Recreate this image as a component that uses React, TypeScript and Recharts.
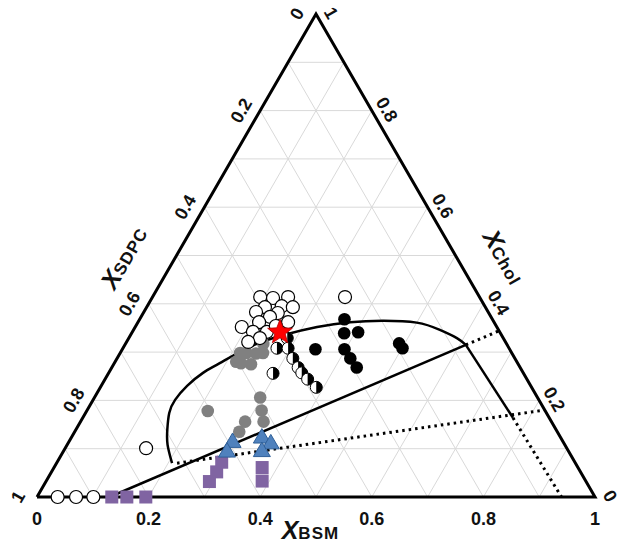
import { ComposedChart, XAxis, YAxis, Line, Scatter } from "recharts";

const H = Math.sqrt(3) / 2;

// points are [x_BSM, x_Chol]; x_SDPC = 1 - both
const openPts = [
  [0.193, 0.414], [0.217, 0.412], [0.243, 0.414], [0.212, 0.393], [0.241, 0.395],
  [0.262, 0.393], [0.201, 0.383], [0.241, 0.381], [0.231, 0.373], [0.217, 0.362],
  [0.269, 0.362], [0.191, 0.352], [0.216, 0.342], [0.241, 0.342], [0.235, 0.329],
  [0.218, 0.321], [0.251, 0.354], [0.345, 0.414], [0.145, 0.101],
  [0.037, 0], [0.07, 0], [0.101, 0],
];
const halfPts = [
  [0.284, 0.329], [0.276, 0.308], [0.296, 0.308], [0.315, 0.287], [0.334, 0.268],
  [0.346, 0.257], [0.363, 0.244], [0.387, 0.227], [0.295, 0.256],
];
const blackPts = [
  [0.346, 0.306], [0.367, 0.368], [0.381, 0.339], [0.405, 0.341], [0.398, 0.306],
  [0.418, 0.287], [0.439, 0.268], [0.49, 0.318], [0.501, 0.308],
];
const greyPts = [
  [0.215, 0.298], [0.226, 0.298], [0.244, 0.297], [0.256, 0.298], [0.247, 0.317],
  [0.217, 0.28], [0.227, 0.277], [0.246, 0.275], [0.297, 0.206], [0.217, 0.178],
  [0.313, 0.179], [0.328, 0.156], [0.295, 0.156], [0.295, 0.135],
];
const trianglePts = [
  [0.293, 0.115], [0.293, 0.095], [0.341, 0.124], [0.363, 0.112], [0.355, 0.096],
];
const squarePts = [
  [0.295, 0.072], [0.296, 0.052], [0.293, 0.032], [0.373, 0.061], [0.387, 0.033],
  [0.134, 0], [0.161, 0], [0.195, 0],
];
const starPts = [[0.265, 0.341]];

const boundary = [
  [0.207, 0.07], [0.18, 0.108], [0.164, 0.139], [0.15, 0.174], [0.147, 0.201],
  [0.154, 0.23], [0.169, 0.257], [0.189, 0.277], [0.226, 0.311], [0.273, 0.335],
  [0.326, 0.352], [0.38, 0.362], [0.437, 0.365], [0.5, 0.361], [0.549, 0.346],
  [0.588, 0.329], [0.611, 0.315],
];
const tieLine = [[0.13, 0], [0.611, 0.315]];
const cornerLine = [[0.611, 0.315], [0.771, 0.164]];
const dotLow = [[0.216, 0.07], [0.82, 0.18]];
const dotUp = [[0.611, 0.315], [0.656, 0.344]];
const dotDown = [[0.771, 0.164], [0.94, 0]];

const tickValues = [0, 0.2, 0.4, 0.6, 0.8, 1];
const tickLabels = ["0", "0.2", "0.4", "0.6", "0.8", "1"];
const gridSteps = [0.1, 0.2, 0.3, 0.4, 0.5, 0.6, 0.7, 0.8, 0.9];

const tern = (b: number, c: number) => ({ x: b + c / 2, y: c * H });
const toData = (pts: number[][]) => pts.map(([b, c]) => tern(b, c));

const gridSegs: number[][][] = [];
gridSteps.forEach((v) => {
  gridSegs.push([[0, v], [1 - v, v]]);
  gridSegs.push([[v, 0], [v, 1 - v]]);
  gridSegs.push([[1 - v, 0], [0, 1 - v]]);
});
const frame = [[0, 0], [1, 0], [0, 1], [0, 0]];

const bsmTicks = tickValues.map((v, i) => ({ ...tern(v, 0), label: tickLabels[i] }));
const cholTicks = tickValues.map((v, i) => ({ ...tern(1 - v, v), label: tickLabels[i] }));
const sdpcTicks = tickValues.map((v, i) => ({ ...tern(0, 1 - v), label: tickLabels[i] }));

const font = "'Liberation Sans', Arial, sans-serif";
const tickFont = { fontFamily: font, fontWeight: 700, fontSize: 18, fill: "#111" };

const tickShape = (dx: number, dy: number, angle: number) => (p: any) => {
  const x = p.cx + dx;
  const y = p.cy + dy;
  return (
    <text x={x} y={y} textAnchor="middle" dominantBaseline="central" transform={`rotate(${angle} ${x} ${y})`} {...tickFont}>
      {p.payload.label}
    </text>
  );
};

const titleShape = (dx: number, dy: number, angle: number, sub: string) => (p: any) => (
  <g transform={`translate(${p.cx + dx} ${p.cy + dy}) rotate(${angle})`}>
    <text x={0} y={8} textAnchor="middle" fontFamily={font} fontWeight={700} fill="#111">
      <tspan fontSize={25} fontStyle="italic">X</tspan>
      <tspan fontSize={17} letterSpacing={1}>{sub}</tspan>
    </text>
  </g>
);

const OpenDot = (p: any) => <circle cx={p.cx} cy={p.cy} r={6.5} fill="#fff" stroke="#000" strokeWidth={1.2} />;
const BlackDot = (p: any) => <circle cx={p.cx} cy={p.cy} r={6.3} fill="#000" />;
const GreyDot = (p: any) => <circle cx={p.cx} cy={p.cy} r={6.3} fill="#808080" />;
const HalfDot = (p: any) => {
  const r = 6;
  return (
    <g>
      <circle cx={p.cx} cy={p.cy} r={r} fill="#fff" stroke="#000" strokeWidth={1} />
      <path d={`M${p.cx},${p.cy - r} A${r},${r} 0 0 1 ${p.cx},${p.cy + r} Z`} fill="#000" />
    </g>
  );
};
const Tri = (p: any) => {
  const s = 8.5;
  return (
    <path
      d={`M${p.cx},${p.cy - s} L${p.cx + s},${p.cy + s * 0.7} L${p.cx - s},${p.cy + s * 0.7} Z`}
      fill="#4f81bd"
      stroke="#2f5f98"
      strokeWidth={1}
    />
  );
};
const Sq = (p: any) => <rect x={p.cx - 6.5} y={p.cy - 6.5} width={13} height={13} fill="#8064a2" />;
const Star = (p: any) => {
  const pts: string[] = [];
  for (let i = 0; i < 10; i++) {
    const r = i % 2 === 0 ? 13 : 5.5;
    const a = -Math.PI / 2 + (i * Math.PI) / 5;
    pts.push(`${p.cx + r * Math.cos(a)},${p.cy + r * Math.sin(a)}`);
  }
  return <polygon points={pts.join(" ")} fill="#ff0000" stroke="#b00000" strokeWidth={0.8} />;
};

export default function App() {
  return (
    <div style={{ position: "absolute", left: 0, top: 0, background: "#fff" }}>
      <ComposedChart width={629} height={553} margin={{ top: 14, right: 34, bottom: 56, left: 37 }}>
        <XAxis type="number" dataKey="x" domain={[0, 1]} hide />
        <YAxis type="number" dataKey="y" domain={[0, H]} hide />
        {gridSegs.map((s, i) => (
          <Line key={`g${i}`} data={toData(s)} dataKey="y" stroke="#d9d9d9" strokeWidth={1} dot={false} isAnimationActive={false} />
        ))}
        <Line data={toData(frame)} dataKey="y" stroke="#000" strokeWidth={3} dot={false} isAnimationActive={false} />
        <Line data={toData(boundary)} dataKey="y" type="natural" stroke="#000" strokeWidth={2.5} dot={false} isAnimationActive={false} />
        <Line data={toData(tieLine)} dataKey="y" stroke="#000" strokeWidth={2.5} dot={false} isAnimationActive={false} />
        <Line data={toData(cornerLine)} dataKey="y" stroke="#000" strokeWidth={2.5} dot={false} isAnimationActive={false} />
        {[dotLow, dotUp, dotDown].map((d, i) => (
          <Line key={`d${i}`} data={toData(d)} dataKey="y" stroke="#000" strokeWidth={3} strokeDasharray="2.5 4" dot={false} isAnimationActive={false} />
        ))}
        <Scatter data={toData(greyPts)} dataKey="y" shape={GreyDot} isAnimationActive={false} />
        <Scatter data={toData(openPts)} dataKey="y" shape={OpenDot} isAnimationActive={false} />
        <Scatter data={toData(halfPts)} dataKey="y" shape={HalfDot} isAnimationActive={false} />
        <Scatter data={toData(blackPts)} dataKey="y" shape={BlackDot} isAnimationActive={false} />
        <Scatter data={toData(squarePts)} dataKey="y" shape={Sq} isAnimationActive={false} />
        <Scatter data={toData(trianglePts)} dataKey="y" shape={Tri} isAnimationActive={false} />
        <Scatter data={toData(starPts)} dataKey="y" shape={Star} isAnimationActive={false} />
        <Scatter data={bsmTicks} dataKey="y" shape={tickShape(0, 22, 0)} isAnimationActive={false} />
        <Scatter data={cholTicks} dataKey="y" shape={tickShape(15, -1, 60)} isAnimationActive={false} />
        <Scatter data={sdpcTicks} dataKey="y" shape={tickShape(-19, 0, -60)} isAnimationActive={false} />
        <Scatter data={[tern(0.49, 0)]} dataKey="y" shape={titleShape(0, 34, 0, "BSM")} isAnimationActive={false} />
        <Scatter data={[tern(0, 0.45)]} dataKey="y" shape={titleShape(-38, -22, -60, "SDPC")} isAnimationActive={false} />
        <Scatter data={[tern(0.55, 0.45)]} dataKey="y" shape={titleShape(34, -22, 60, "Chol")} isAnimationActive={false} />
      </ComposedChart>
    </div>
  );
}
